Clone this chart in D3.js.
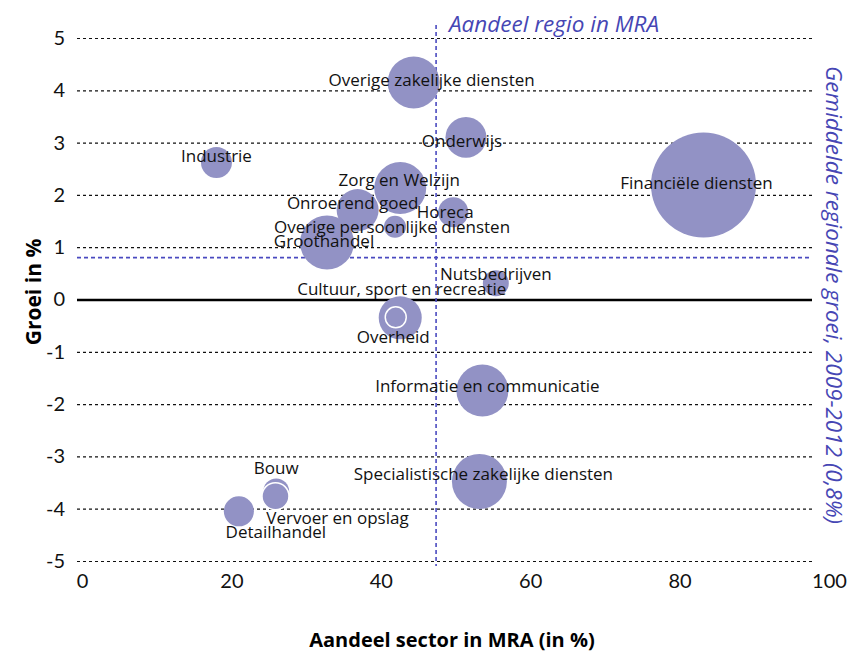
<!DOCTYPE html>
<html>
<head>
<meta charset="utf-8">
<script src="https://cdn.jsdelivr.net/npm/d3@7"></script>
<style>
  body { margin: 0; background: #fff; }
  svg { display: block; font-family: "Open Sans", Lato, sans-serif; }
  .tick text { fill: #111; }
  .bubble-label { font-size: 17px; fill: #111; }
</style>
</head>
<body>
<svg id="chart" width="850" height="654"></svg>
<script>
// data
var sectors = ["Industrie", "Overige zakelijke diensten", "Onderwijs", "Zorg en Welzijn",
    "Financiële diensten", "Onroerend goed", "Horeca", "Overige persoonlijke diensten",
    "Groothandel", "Nutsbedrijven", "Overheid", "Cultuur, sport en recreatie",
    "Informatie en communicatie", "Specialistische zakelijke diensten", "Bouw",
    "Vervoer en opslag", "Detailhandel"];
var aandeel = [18.0, 44.4, 51.4, 42.6, 83.2, 36.9, 49.7, 41.9, 32.8, 55.4, 42.6, 42.0, 53.6, 53.2, 26.0, 25.9, 21.0];
var groei = [2.62, 4.15, 3.10, 2.13, 2.19, 1.71, 1.67, 1.39, 1.09, 0.31, -0.35, -0.34, -1.74, -3.48, -3.67, -3.76, -4.05];
var omvang = [8.7, 24.5, 15.2, 24.5, 100, 16, 8.2, 4.4, 26.4, 6.1, 16.8, 4, 24.5, 27.4, 6.1, 6.6, 8.2];
var outlined = ["Cultuur, sport en recreatie", "Vervoer en opslag"];

var xTicks = [0, 20, 40, 60, 80, 100];
var yTicks = [-5, -4, -3, -2, -1, 0, 1, 2, 3, 4, 5];
var gemAandeel = 47.4;   // aandeel regio in MRA
var gemGroei = 0.8;      // gemiddelde regionale groei

// label offsets (px) from bubble centre: [dx, baseline dy]
var labelOffsets = [[0, 0], [18, 4], [-4, 10], [-1, -2], [-7, 4], [-5, -1], [-8, 6], [-3, 6],
    [-3, 5], [0, -3], [-7, 25], [6, -22], [5, 1], [4, -2], [0, -17], [62, 28], [37, 27]];

var svg = d3.select("#chart");

var x = d3.scaleLinear().domain([0, 100]).range([82, 829]);
var y = d3.scaleLinear().domain([-5, 5]).range([561, 38]);
var r = d3.scaleSqrt().domain([0, 100]).range([0, 52.5]);

var gridLeft = 77, gridRight = 812;

// y axis with dotted gridlines
var yAxis = svg.append("g")
    .attr("transform", "translate(" + gridLeft + ",0)")
    .call(d3.axisLeft(y).tickValues(yTicks).tickSize(-(gridRight - gridLeft)).tickPadding(12)
        .tickFormat(function (d) { return String(d); }));
yAxis.select(".domain").remove();
yAxis.selectAll(".tick line")
    .attr("stroke", "#111")
    .attr("stroke-width", 1.2)
    .attr("stroke-dasharray", "3,3");
yAxis.selectAll(".tick").filter(function (d) { return d === 0; }).select("line")
    .attr("stroke-dasharray", null)
    .attr("stroke-width", 2.5)
    .attr("stroke", "#000");
yAxis.selectAll(".tick text").attr("font-size", 20).attr("font-family", "Lato");

// x axis labels only
var xAxis = svg.append("g")
    .attr("transform", "translate(0," + y(-5) + ")")
    .call(d3.axisBottom(x).tickValues(xTicks).tickSize(0).tickPadding(13));
xAxis.select(".domain").remove();
xAxis.selectAll(".tick text").attr("font-size", 20).attr("font-family", "Lato");

// reference lines
svg.append("line")
    .attr("x1", gridLeft).attr("x2", gridRight)
    .attr("y1", y(gemGroei)).attr("y2", y(gemGroei))
    .attr("stroke", "#4a4ac0").attr("stroke-width", 1.6).attr("stroke-dasharray", "4,3");
svg.append("line")
    .attr("x1", x(gemAandeel)).attr("x2", x(gemAandeel))
    .attr("y1", 25).attr("y2", 566)
    .attr("stroke", "#4a4ac0").attr("stroke-width", 1.6).attr("stroke-dasharray", "4,3");

// bubbles
var data = sectors.map(function (s, i) {
    return { name: s, x: aandeel[i], y: groei[i], size: omvang[i], off: labelOffsets[i] };
});

svg.append("g").selectAll("circle")
    .data(data)
    .enter()
    .append("circle")
    .attr("cx", function (d) { return x(d.x); })
    .attr("cy", function (d) { return y(d.y); })
    .attr("r", function (d) { return r(d.size); })
    .attr("fill", "#9292c5")
    .attr("stroke", function (d) { return outlined.includes(d.name) ? "#fff" : "none"; })
    .attr("stroke-width", 1.5);

svg.append("g").selectAll("text")
    .data(data)
    .enter()
    .append("text")
    .attr("class", "bubble-label")
    .attr("x", function (d) { return x(d.x) + d.off[0]; })
    .attr("y", function (d) { return y(d.y) + d.off[1]; })
    .attr("text-anchor", "middle")
    .text(function (d) { return d.name; });

// titles
svg.append("text")
    .attr("x", 449).attr("y", 32)
    .attr("font-size", 22.5).attr("font-style", "italic")
    .attr("fill", "#4646b4")
    .text("Aandeel regio in MRA");

svg.append("text")
    .attr("transform", "translate(826,295) rotate(90)")
    .attr("text-anchor", "middle")
    .attr("font-size", 22.5).attr("font-style", "italic")
    .attr("fill", "#4646b4")
    .text("Gemiddelde regionale groei, 2009-2012 (0,8%)");

svg.append("text")
    .attr("transform", "translate(41,292) rotate(-90)")
    .attr("text-anchor", "middle")
    .attr("font-size", 21).attr("font-weight", "bold")
    .attr("fill", "#000")
    .text("Groei in %");

svg.append("text")
    .attr("x", 452).attr("y", 647)
    .attr("text-anchor", "middle")
    .attr("font-size", 20).attr("font-weight", "bold")
    .attr("fill", "#000")
    .text("Aandeel sector in MRA (in %)");
</script>
</body>
</html>
